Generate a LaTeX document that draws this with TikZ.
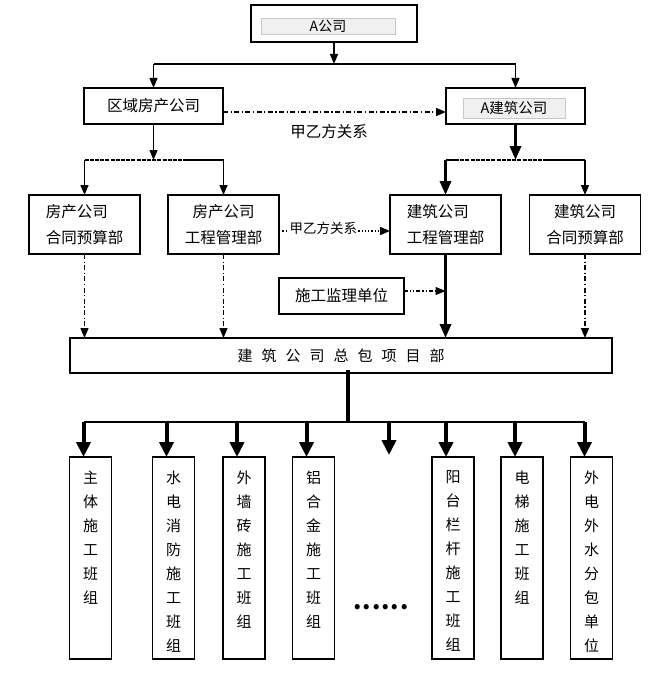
\documentclass[tikz,border=0pt]{standalone}
\usepackage{fontspec}
\setmainfont{Noto Sans CJK SC}
\usetikzlibrary{arrows.meta,calc}
\newcommand\fsz[2]{\fontsize{#1}{#2}\selectfont}
\begin{document}
\begin{tikzpicture}[x=1pt,y=-1pt,
  box/.style={draw, line width=1.1pt, inner sep=0pt, outer sep=0pt},
  inbox/.style={draw=black!22, fill=black!6, line width=0.6pt, inner sep=0pt},
  boxedge/.style={line width=2.6pt},
  ln/.style={line width=1.3pt},
  tipA/.style={-{Triangle[length=10pt,width=8pt]}},
  tipB/.style={-{Triangle[length=14pt,width=11pt]}},
  tipC/.style={-{Triangle[length=15pt,width=14pt]}},
  dashdot/.style={dash pattern=on 5pt off 2.5pt on 1.2pt off 2.5pt},
  dashdotdot/.style={dash pattern=on 4pt off 2pt on 1.2pt off 2pt on 1.2pt off 2pt},
  heavydash/.style={line width=2.6pt, dash pattern=on 4pt off 1.2pt},
  txt/.style={font=\fsz{15.5}{26}},
  r3/.style={box, minimum width=111pt, minimum height=59pt, font=\fsz{15.5}{26}},
  tall/.style={box, minimum width=42pt, minimum height=202pt},
  vtext/.style={font=\fsz{15}{24}, align=center, inner sep=0pt, anchor=north},
]
\useasboundingbox (0,0) rectangle (667,682);
\path[fill=white] (0,0) rectangle (667,682);

% top level
\node[box, minimum width=166pt, minimum height=37pt] (top) at (334,23.5) {};
\node[inbox, minimum width=134pt, minimum height=16pt, font=\fsz{14}{16}] (topin) at (328,26) {A公司};

% second level
\node[box, minimum width=139pt, minimum height=36pt, txt] (region) at (153.5,106) {区域房产公司};
\node[box, minimum width=139pt, minimum height=36pt] (build) at (515.5,106) {};
\node[inbox, minimum width=102pt, minimum height=20pt, font=\fsz{14.5}{16}] (buildin) at (514,108) {A建筑公司};
\node[txt] (rel1) at (329,132) {甲乙方关系};

% third level
\node[r3, align=left] (hc) at (84.5,224.5) {房产公司\\合同预算部};
\node[r3, align=center] (hg) at (223.5,224.5) {房产公司\\工程管理部};
\node[r3, align=left] (bg) at (445.5,224.5) {建筑公司\\工程管理部};
\node[r3, align=center] (bc) at (585,224.5) {建筑公司\\合同预算部};

\node[box, minimum width=125pt, minimum height=36pt, txt] (sup) at (341.5,296) {施工监理单位};

\node[box, minimum width=542pt, minimum height=35pt, font=\fsz{15}{18}] (zb) at (341,355.5)
  {建\hspace{9pt}筑\hspace{9pt}公\hspace{9pt}司\hspace{9pt}总\hspace{9pt}包\hspace{9pt}项\hspace{9pt}目\hspace{9pt}部};

% bottom boxes
\node[tall] (t1) at (90.5,558) {};
\node[tall] (t2) at (173.5,558) {};
\node[tall] (t3) at (244,558) {};
\node[tall] (t4) at (313.5,558) {};
\node[tall] (t5) at (453,558) {};
\node[tall] (t6) at (522,558) {};
\node[tall] (t7) at (591.5,558) {};
\node[vtext] (x1) at ([yshift=-13.5pt]t1.north) {主\\体\\施\\工\\班\\组};
\node[vtext] (x2) at ([yshift=-13.5pt]t2.north) {水\\电\\消\\防\\施\\工\\班\\组};
\node[vtext] (x3) at ([yshift=-13.5pt]t3.north) {外\\墙\\砖\\施\\工\\班\\组};
\node[vtext] (x4) at ([yshift=-13.5pt]t4.north) {铝\\合\\金\\施\\工\\班\\组};
\node[vtext] (x5) at ([yshift=-13.5pt]t5.north) {阳\\台\\栏\\杆\\施\\工\\班\\组};
\node[vtext] (x6) at ([yshift=-13.5pt]t6.north) {电\\梯\\施\\工\\班\\组};
\node[vtext] (x7) at ([yshift=-13.5pt]t7.north) {外\\电\\外\\水\\分\\包\\单\\位};
\node[font=\fsz{24}{26}, inner sep=0pt, anchor=base] (dots) at (381,609.5) {\textbf{.\hspace{1pt}.\hspace{1pt}.\hspace{1pt}.\hspace{1pt}.\hspace{1pt}.}};

% thick top and bottom edges of boxes
\foreach \n in {top,region,build,hc,hg,bg,bc,sup,zb,t1,t2,t3,t4,t5,t6,t7}
  \draw[boxedge] (\n.north west) -- (\n.north east) (\n.south west) -- (\n.south east);

% connectors level 1
\coordinate (h1) at (334,64);
\draw[ln, tipA] (top.south) -- (h1);
\draw[ln] (h1 -| region.north) -- (h1 -| build.north);
\draw[ln, tipA] (h1 -| region.north) -- (region.north);
\draw[ln, tipA] (h1 -| build.north) -- (build.north);
\draw[ln, dashdot, tipA] ([yshift=-6pt]region.east) -- ([yshift=-6pt]build.west);

% connectors level 2 left
\coordinate (h2) at (153.5,160);
\coordinate (h2b) at (187,160);
\draw[ln, tipA] (region.south) -- (h2);
\draw[heavydash] (h2 -| hc.north) -- (h2b);
\draw[ln] (h2b) -- (h2 -| hg.north);
\draw[ln, tipA] (h2 -| hc.north) -- (hc.north);
\draw[ln, tipA] (h2 -| hg.north) -- (hg.north);

% connectors level 2 right
\coordinate (h3) at (515.5,160);
\coordinate (h3a) at (455,160);
\coordinate (h3b) at (547,160);
\draw[line width=3.2pt, tipB] (build.south) -- (h3);
\draw[line width=2.6pt] (h3 -| bg.north) -- (h3a);
\draw[heavydash] (h3a) -- (h3b);
\draw[ln] (h3b) -- (h3 -| bc.north);
\draw[line width=3.2pt, tipB] (h3 -| bg.north) -- (bg.north);
\draw[ln, tipA] (h3 -| bc.north) -- (bc.north);

% relation between engineering departments
\draw[ln, dotted, tipA] ([yshift=-6.5pt]hg.east) -- ([yshift=-6.5pt]bg.west)
  node[pos=0.4, yshift=3pt, fill=white, inner sep=0.5pt, font=\fsz{13.5}{15}] (rel2) {甲乙方关系};

% down to general contractor
\draw[ln, dashdot, tipA] (hc.south) -- (hc.south |- zb.north);
\draw[ln, dashdot, tipA] (hg.south) -- (hg.south |- zb.north);
\draw[ln, dashdot, tipA] (bc.south) -- (bc.south |- zb.north);
\draw[line width=3.2pt, tipB] (bg.south) -- (bg.south |- zb.north);
\coordinate (sj) at (445.5,291);
\draw[ln, dashdotdot, tipA] ([yshift=5pt]sup.east) -- (sj);

% bottom distribution
\coordinate (h4) at (348,422);
\coordinate (d) at (389,455);
\draw[line width=4pt] (348,370) -- (h4);
\draw[line width=2.6pt] ([xshift=-7pt]t1.north |- h4) -- ([xshift=-7pt]t7.north |- h4);
\foreach \t in {t1,t2,t3,t4,t5,t6,t7}
  \draw[line width=4pt, tipC] ([xshift=-7pt]\t.north |- h4) -- ([xshift=-7pt]\t.north);
\draw[line width=4pt, tipC] (d |- h4) -- (d);
\end{tikzpicture}
\end{document}
